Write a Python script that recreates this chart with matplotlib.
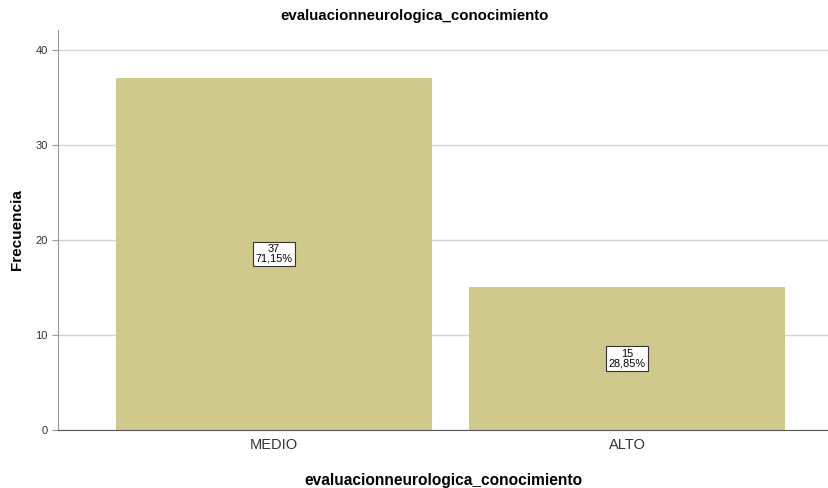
import matplotlib
matplotlib.use("Agg")
import matplotlib.pyplot as plt

categories = ["MEDIO", "ALTO"]
counts = [37, 15]
percents = ["71,15%", "28,85%"]
y_ticks = [0, 10, 20, 30, 40]

BAR_COLOR = "#D0C98E"
TITLE = "evaluacionneurologica_conocimiento"

plt.rcParams["font.family"] = ["Liberation Sans", "DejaVu Sans"]

fig = plt.figure(figsize=(8.29, 4.88), dpi=100)
ax = fig.add_axes([0.070, 0.119, 0.929, 0.820])

x = range(len(categories))
ax.bar(x, counts, width=0.895, color=BAR_COLOR, edgecolor="none", zorder=2)

for xi, c, p in zip(x, counts, percents):
    ax.text(xi, c / 2, f"{c}\n{p}", ha="center", va="center", fontsize=7.8,
            linespacing=0.95, zorder=3,
            bbox=dict(boxstyle="square,pad=0.22", fc="white", ec="#333333", lw=0.8))

ax.set_xlim(-0.612, 1.569)
ax.set_ylim(0, 42.1)
ax.set_yticks(y_ticks)
ax.set_xticks(list(x))
ax.set_xticklabels(categories, fontsize=10.5, color="#333333")
ax.tick_params(axis="y", labelsize=8, colors="#333333", length=4, color="#999999")
ax.tick_params(axis="x", length=0, pad=6)
ax.grid(axis="y", color="#d4d4d4", lw=1, zorder=0)

for s in ["top", "right"]:
    ax.spines[s].set_visible(False)
ax.spines["left"].set_color("#999999")
ax.spines["bottom"].set_color("#555555")

ax.set_ylabel("Frecuencia", fontsize=11, fontweight="bold", labelpad=8)
ax.set_xlabel(TITLE, fontsize=11.2, fontweight="bold", labelpad=15)
fig.text(0.5, 0.968, TITLE, ha="center", va="center", fontsize=10.8, fontweight="bold")

fig.savefig("out.png", dpi=100)
